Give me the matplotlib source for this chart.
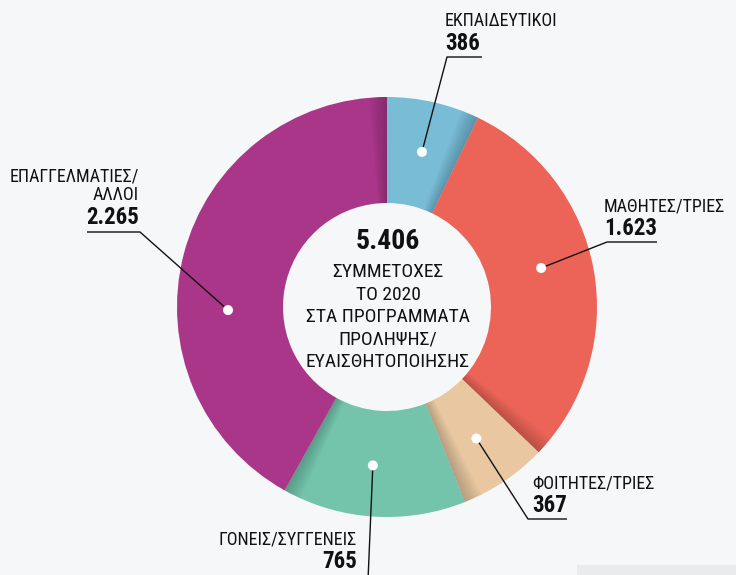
import matplotlib
matplotlib.use("Agg")
import matplotlib.pyplot as plt
import numpy as np
from matplotlib.patches import Wedge, Rectangle, Circle

# data
categories = ["ΕΚΠΑΙΔΕΥΤΙΚΟΙ", "ΜΑΘΗΤΕΣ/ΤΡΙΕΣ", "ΦΟΙΤΗΤΕΣ/ΤΡΙΕΣ",
              "ΓΟΝΕΙΣ/ΣΥΓΓΕΝΕΙΣ", "ΕΠΑΓΓΕΛΜΑΤΙΕΣ/\nΑΛΛΟΙ"]
values = [386, 1623, 367, 765, 2265]
center_lines = ["ΣΥΜΜΕΤΟΧΕΣ", "ΤΟ 2020", "ΣΤΑ ΠΡΟΓΡΑΜΜΑΤΑ", "ΠΡΟΛΗΨΗΣ/", "ΕΥΑΙΣΘΗΤΟΠΟΙΗΣΗΣ"]

colors = ["#79bcd6", "#ec6458", "#e8c7a1", "#74c4ac", "#aa368a"]
BG = "#f6f7f9"
INK = "#111111"
FONT = ["Roboto Condensed", "DejaVu Sans"]

CX, CY, R, R_IN = 387, 307, 210, 104


def fmt(n):
    return f"{n:,}".replace(",", ".")


# callout layout (pixel coords): dot angle clockwise from top, elbow, underline end,
# text x, alignment, baseline of the name
layout = [
    dict(ang=12.7, elbow=(447, 57), end=(482, 57), tx=445, ha="left", base=26.5),
    dict(ang=75.8, elbow=(607, 242), end=(657, 242), tx=604, ha="left", base=211.5),
    dict(ang=145.8, elbow=(528, 519), end=(567, 519), tx=532, ha="left", base=488),
    dict(ang=185.1, elbow=(368, 580), end=(368, 580), tx=357, ha="right", base=545),
    dict(ang=268.9, elbow=(140, 232), end=(87, 232), tx=139, ha="right", base=181.5),
]

fig = plt.figure(figsize=(7.36, 5.75), dpi=100)
fig.patch.set_facecolor(BG)
ax = fig.add_axes([0, 0, 1, 1])

# y axis inverted -> counterclock in data space reads clockwise on screen
wedges, _ = ax.pie(values, colors=colors, startangle=-90, counterclock=True,
                   center=(CX, CY), radius=R,
                   wedgeprops=dict(width=R - R_IN, linewidth=0))
ax.set_xlim(0, 736)
ax.set_ylim(575, 0)
ax.set_aspect("equal")
ax.axis("off")

# soft fold shadow at the end of each segment
for w in wedges:
    t2 = w.theta2
    n = 10
    for k in range(n):
        ax.add_patch(Wedge((CX, CY), R, t2 - 5.0 * (k + 1) / n, t2,
                           width=R - R_IN, facecolor="black", alpha=0.018,
                           linewidth=0, zorder=2))

# centre text
ax.text(CX + 1, 249, fmt(sum(values)), ha="center", va="baseline",
        fontsize=20, fontweight="bold", color=INK, family=FONT, zorder=5)
for i, line in enumerate(center_lines):
    ax.text(CX + 1, 277 + 22.5 * i, line, ha="center", va="baseline",
            fontsize=14, color=INK, family=FONT, zorder=5)

# callouts
for cat, val, lay in zip(categories, values, layout):
    a = np.deg2rad(lay["ang"])
    dx, dy = CX + 159 * np.sin(a), CY - 159 * np.cos(a)
    ex, ey = lay["elbow"]
    fx, fy = lay["end"]
    ax.plot([dx, ex, fx], [dy, ey, fy], color=INK, lw=1.0, zorder=4,
            solid_capstyle="butt")
    ax.add_patch(Circle((dx, dy), 5, facecolor="white", edgecolor="none", zorder=6))
    lines = cat.split("\n")
    for j, ln in enumerate(lines):
        ax.text(lay["tx"], lay["base"] + 18.5 * j, ln, ha=lay["ha"], va="baseline",
                fontsize=13, color=INK, family=FONT, zorder=5)
    ax.text(lay["tx"], lay["base"] + 18.5 * (len(lines) - 1) + 23.5, fmt(val),
            ha=lay["ha"], va="baseline", fontsize=16.5, fontweight="bold",
            color=INK, family=FONT, zorder=5)

# grey strip bottom-right
ax.add_patch(Rectangle((577, 565), 200, 20, facecolor="#ebebec", edgecolor="none",
                       zorder=1))

fig.savefig("out.png", dpi=100, facecolor=BG)
